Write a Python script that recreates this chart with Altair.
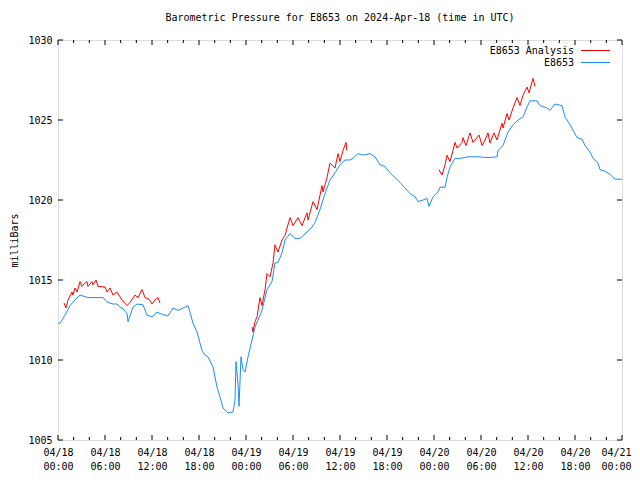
import altair as alt
import pandas as pd

TITLE = "Barometric Pressure for E8653 on 2024-Apr-18 (time in UTC)"
Y_TITLE = "milliBars"
SERIES = ["E8653 Analysis", "E8653"]
COLORS = ["#ff0000", "#1a8cff"]
FONT = "DejaVu Sans Mono"

# observed series (hours since 04/18 00:00 UTC, mbar)
obs_hours = [0.0, 0.26, 0.89, 1.53, 2.17, 2.81, 3.83, 4.72, 5.74, 6.38, 7.02, 7.53, 7.92, 8.30, 8.81,
             8.94, 9.57, 10.09, 10.85, 11.36, 12.0, 12.64, 13.02, 14.04, 14.68, 15.32, 15.96, 16.60,
             16.85, 17.23, 17.75, 18.38, 18.77, 19.15, 19.79, 20.30, 20.68, 21.06, 21.70, 22.34,
             22.60, 22.72, 22.98, 23.11, 23.36, 23.62, 23.87, 24.26, 24.77, 25.15, 25.79, 26.04,
             26.68, 27.32, 27.70, 28.09, 28.60, 28.98, 29.62, 30.26, 30.89, 31.79, 32.43, 32.81,
             33.45, 34.09, 34.72, 35.36, 36.0, 36.64, 37.28, 37.66, 38.30, 38.94, 39.83, 40.47,
             41.11, 41.75, 42.38, 43.02, 43.66, 44.30, 44.94, 45.58, 45.96, 46.60, 47.11, 47.36,
             47.87, 48.51, 48.77, 49.41, 49.66, 50.04, 50.68, 51.32, 52.34, 53.62, 54.89, 56.04,
             56.17, 56.81, 57.45, 58.09, 58.73, 59.37, 59.87, 60.26, 61.15, 61.53, 62.43, 62.81,
             63.45, 64.34, 64.72, 65.36, 66.26, 66.89, 67.28, 67.92, 68.30, 68.94, 69.19, 69.83,
             70.47, 71.11, 71.75, 72.0]
obs_mb = [1012.3, 1012.3, 1012.8, 1013.4, 1013.75, 1014.06, 1013.9, 1013.9, 1013.9, 1013.6, 1013.5,
          1013.5, 1013.3, 1013.2, 1012.9, 1012.4, 1013.3, 1013.5, 1013.45, 1012.8, 1012.7, 1013.0,
          1012.9, 1012.75, 1013.25, 1013.1, 1013.25, 1013.4, 1013.0, 1012.3, 1011.75, 1010.6,
          1010.3, 1010.2, 1009.56, 1008.3, 1007.7, 1007.0, 1006.7, 1006.75, 1007.5, 1009.9, 1008.5,
          1007.1, 1010.2, 1009.4, 1009.25, 1010.2, 1011.25, 1012.06, 1012.8, 1013.1, 1014.4,
          1014.9, 1016.06, 1016.1, 1016.7, 1017.5, 1017.9, 1017.6, 1017.6, 1018.0, 1018.3, 1018.6,
          1019.4, 1020.4, 1021.25, 1021.7, 1022.2, 1022.5, 1022.5, 1022.6, 1022.9, 1022.8, 1022.9,
          1022.7, 1022.2, 1022.1, 1021.7, 1021.4, 1021.1, 1020.75, 1020.4, 1020.2, 1019.9, 1020.0,
          1020.1, 1019.6, 1020.2, 1020.5, 1020.8, 1020.8, 1021.4, 1022.06, 1022.6, 1022.6, 1022.7,
          1022.7, 1022.65, 1022.7, 1023.1, 1023.4, 1024.25, 1024.7, 1025.0, 1025.2, 1025.8, 1026.2,
          1026.2, 1025.9, 1025.75, 1025.6, 1026.0, 1025.9, 1025.2, 1024.7, 1023.9, 1023.8, 1023.4,
          1023.0, 1022.6, 1022.3, 1021.9, 1021.8, 1021.6, 1021.3, 1021.3, 1021.3]

# analysis series, three runs
an1_hours = [0.77, 1.02, 1.28, 1.79, 1.91, 2.17, 2.43, 2.81, 3.06, 3.32, 3.70, 3.83, 4.34, 4.47, 4.85,
             5.11, 6.0, 6.26, 6.64, 7.02, 7.53, 8.17, 8.81, 9.19, 9.83, 10.21, 10.72, 11.11, 11.62,
             12.0, 12.38, 12.77, 13.02]
an1_mb = [1013.56, 1013.25, 1013.75, 1014.25, 1014.06, 1014.5, 1014.25, 1014.9, 1014.6, 1014.75,
          1014.9, 1014.6, 1014.9, 1014.7, 1015.0, 1014.6, 1014.56, 1014.25, 1014.5, 1014.06, 1014.25,
          1013.75, 1013.4, 1013.6, 1014.06, 1013.9, 1014.4, 1013.9, 1013.8, 1013.5, 1013.75, 1013.9,
          1013.56]
an2_hours = [24.77, 24.89, 25.15, 25.41, 25.79, 26.04, 26.43, 26.68, 27.07, 27.45, 27.70, 28.09,
             28.60, 28.98, 29.62, 30.00, 30.64, 31.15, 31.79, 31.92, 32.56, 33.07, 33.70, 33.83,
             34.34, 34.72, 35.36, 35.75, 36.0, 36.38, 36.77, 36.89]
an2_mb = [1012.06, 1011.75, 1012.4, 1012.7, 1013.9, 1013.4, 1014.4, 1015.4, 1015.2, 1016.06, 1017.2,
          1016.75, 1017.5, 1017.8, 1018.9, 1018.4, 1018.9, 1018.4, 1019.2, 1018.75, 1019.9, 1019.4,
          1020.9, 1020.5, 1021.4, 1022.3, 1022.0, 1022.9, 1022.4, 1023.1, 1023.6, 1023.1]
an3_hours = [48.64, 49.02, 49.41, 49.66, 50.04, 50.43, 50.68, 50.94, 51.58, 51.70, 52.09, 52.60,
             52.98, 53.49, 53.75, 54.13, 54.51, 54.89, 55.15, 55.66, 56.04, 56.68, 56.81, 57.32,
             57.58, 58.09, 58.60, 58.98, 59.37, 59.87, 60.13, 60.64, 60.89]
an3_mb = [1021.9, 1021.56, 1022.2, 1022.8, 1022.4, 1023.1, 1023.6, 1023.25, 1023.6, 1023.9, 1023.4,
          1024.2, 1023.6, 1023.9, 1024.06, 1023.4, 1023.75, 1024.2, 1023.56, 1024.2, 1023.75,
          1024.8, 1024.5, 1025.4, 1025.0, 1025.75, 1026.4, 1025.9, 1026.56, 1027.06, 1026.7,
          1027.6, 1027.1]

x_ticks = list(range(0, 73, 2))
x_major = list(range(0, 73, 6))
y_ticks = [1005, 1010, 1015, 1020, 1025, 1030]

W, H = 564, 400

obs = pd.DataFrame({"t": obs_hours, "p": obs_mb})
an = pd.concat([
    pd.DataFrame({"t": an1_hours, "p": an1_mb, "run": 1}),
    pd.DataFrame({"t": an2_hours, "p": an2_mb, "run": 2}),
    pd.DataFrame({"t": an3_hours, "p": an3_mb, "run": 3}),
])

xs = alt.Scale(domain=[0, 72], nice=False, zero=False)
ys = alt.Scale(domain=[1005, 1030], nice=False, zero=False)

label_expr = ("['04/' + (18 + floor(datum.value / 24)), "
              "(datum.value % 24 < 10 ? '0' : '') + (datum.value % 24) + ':00']")

x_axis = alt.Axis(values=x_major, labelExpr=label_expr, ticks=False, domain=False, grid=False,
                  labelFlush=False, labelOverlap=False, labelPadding=7, labelLineHeight=14,
                  labelBound=False,
                  labelOffset={"condition": {"test": "datum.value >= 72", "value": -6}, "value": 0},
                  labelFont=FONT, labelFontSize=10, labelColor="#000", title=None)
y_axis = alt.Axis(values=y_ticks, format="d", ticks=False, domain=False, grid=False,
                  labelFlush=False, labelPadding=6, labelFont=FONT, labelFontSize=10,
                  labelColor="#000",
                  title=Y_TITLE, titleFont=FONT, titleFontSize=10, titleFontWeight="normal",
                  titleColor="#000", titlePadding=8)

X_T = alt.X("t:Q", scale=xs, axis=x_axis)
Y_P = alt.Y("p:Q", scale=ys, axis=y_axis)

obs_line = alt.Chart(obs).mark_line(color=COLORS[1], strokeWidth=1).encode(x=X_T, y=Y_P)
an_line = alt.Chart(an).mark_line(color=COLORS[0], strokeWidth=1).encode(
    x=X_T, y=Y_P, detail="run:N")

xt = pd.DataFrame({"t": x_ticks})
xt["major"] = xt["t"].isin(x_major)
yt = pd.DataFrame({"p": y_ticks})

tick_layers = []
for is_major, ln in [(True, 5), (False, 3)]:
    base = alt.Chart(xt).transform_filter(
        alt.datum.major if is_major else ~alt.datum.major
    ).mark_rule(color="#000", strokeWidth=1)
    tick_layers.append(base.encode(x=X_T, y=alt.value(H), y2=alt.value(H - ln)))
    tick_layers.append(base.encode(x=X_T, y=alt.value(0), y2=alt.value(ln)))
ytick = alt.Chart(yt).mark_rule(color="#000", strokeWidth=1)
tick_layers.append(ytick.encode(y=Y_P, x=alt.value(0), x2=alt.value(5)))
tick_layers.append(ytick.encode(y=Y_P, x=alt.value(W - 5), x2=alt.value(W)))

legend_layers = []
for i, (name, col) in enumerate(zip(SERIES, COLORS)):
    ld = pd.DataFrame({"name": [name]})
    yy = 10.5 + 12 * i
    legend_layers.append(alt.Chart(ld).mark_text(
        align="right", baseline="middle", font=FONT, fontSize=10, color="#000"
    ).encode(text="name:N", x=alt.value(516), y=alt.value(yy)))
    legend_layers.append(alt.Chart(ld).mark_rule(color=col, strokeWidth=1).encode(
        x=alt.value(523), x2=alt.value(552), y=alt.value(yy)))

chart = alt.layer(obs_line, an_line, *tick_layers, *legend_layers).properties(
    width=W, height=H,
    title=alt.TitleParams(TITLE, font=FONT, fontSize=10, fontWeight="normal", color="#000",
                          anchor="middle", offset=12),
    autosize=alt.AutoSizeParams(type="none"),
    padding={"left": 50, "top": 32, "right": 10, "bottom": 32},
).configure_view(stroke="#000", strokeWidth=1).configure(background="white")

chart.save("out.html", embed_options={"renderer": "svg", "actions": False})
